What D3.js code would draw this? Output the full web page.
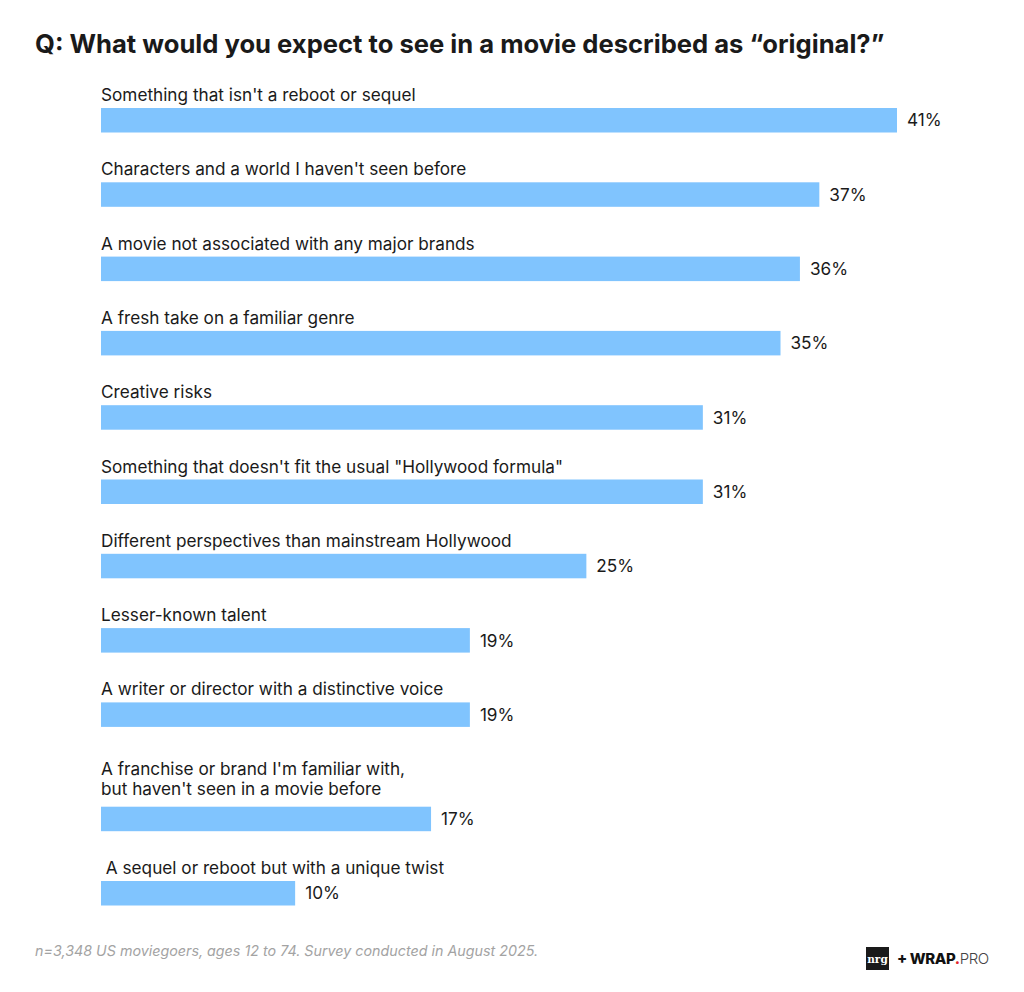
<!DOCTYPE html>
<html>
<head>
<meta charset="utf-8">
<script src="https://cdn.jsdelivr.net/npm/d3@7"></script>
<style>
  body { margin: 0; background: #fff; }
  svg { display: block; font-family: Inter, "Noto Sans", sans-serif; }
  .label { white-space: pre; }
</style>
</head>
<body>
<svg width="1024" height="992"></svg>
<script>
const labels = [
  ['Something that isn\'t a reboot or sequel'],
  ['Characters and a world I haven\'t seen before'],
  ['A movie not associated with any major brands'],
  ['A fresh take on a familiar genre'],
  ['Creative risks'],
  ['Something that doesn\'t fit the usual "Hollywood formula"'],
  ['Different perspectives than mainstream Hollywood'],
  ['Lesser-known talent'],
  ['A writer or director with a distinctive voice'],
  ['A franchise or brand I\'m familiar with,', 'but haven\'t seen in a movie before'],
  [' A sequel or reboot but with a unique twist']
]
const values = [41, 37, 36, 35, 31, 31, 25, 19, 19, 17, 10]

const title = 'Q: What would you expect to see in a movie described as \u201coriginal?\u201d'
const note = 'n=3,348 US moviegoers, ages 12 to 74. Survey conducted in August 2025.'

const svg = d3.select('svg')
const margin = {top: 108, left: 101}
const barH = 24.5
const pitch = 74.3
const extraLine = 30

// rows with wrapped labels get extra room above the bar
const data = labels.map((l, i) => ({lines: l, value: values[i]}))
let acc = 0
data.forEach((d) => {
  acc += extraLine * (d.lines.length - 1)
  d.top = acc
  acc += pitch
})

const x = d3.scaleLinear()
  .domain([0, 41])
  .range([0, 796])

svg.append('text')
  .attr('x', 35)
  .attr('y', 53)
  .attr('font-size', 25.6)
  .attr('font-weight', 700)
  .attr('fill', '#1a1a1a')
  .text(title)

const g = svg.append('g').attr('transform', `translate(${margin.left},${margin.top})`)

const row = g.selectAll('.row')
  .data(data)
  .enter().append('g')
  .attr('class', 'row')
  .attr('transform', (d) => `translate(0,${d.top})`)

row.append('rect')
  .attr('x', 0)
  .attr('y', 0)
  .attr('width', (d) => x(d.value))
  .attr('height', barH)
  .attr('fill', '#80c4fe')

row.each(function (d) {
  const n = d.lines.length
  d3.select(this).selectAll('.label')
    .data(d.lines)
    .enter().append('text')
    .attr('class', 'label')
    .attr('x', 0)
    .attr('y', (t, i) => -7 - (n - 1 - i) * 20 - (n - 1) * 5)
    .attr('font-size', 17.2)
    .attr('fill', '#1a1a1a')
    .text((t) => t)
})

row.append('text')
  .attr('x', (d) => x(d.value) + 10)
  .attr('y', barH / 2)
  .attr('dy', '0.36em')
  .attr('font-size', 17.2)
  .attr('fill', '#1a1a1a')
  .text((d) => d.value + '%')

svg.append('text')
  .attr('x', 35)
  .attr('y', 956)
  .attr('font-size', 14.3)
  .attr('font-style', 'italic')
  .attr('fill', '#a3a3a3')
  .text(note)

// logo
const logo = svg.append('g').attr('transform', 'translate(866,947)')
logo.append('rect')
  .attr('width', 23)
  .attr('height', 23)
  .attr('fill', '#1a1a1a')
logo.append('text')
  .attr('x', 11.5)
  .attr('y', 16)
  .attr('text-anchor', 'middle')
  .attr('font-family', 'DejaVu Serif, serif')
  .attr('font-weight', 700)
  .attr('font-size', 10.5)
  .attr('fill', '#fff')
  .text('nrg')
const brand = logo.append('text')
  .attr('x', 31)
  .attr('y', 17)
  .attr('font-size', 15)
  .attr('letter-spacing', -0.4)
brand.append('tspan').attr('font-weight', 800).attr('fill', '#111').text('+ WRAP')
brand.append('tspan').attr('font-weight', 800).attr('fill', '#e3242b').text('.')
brand.append('tspan').attr('font-weight', 300).attr('fill', '#444').text('PRO')
</script>
</body>
</html>
